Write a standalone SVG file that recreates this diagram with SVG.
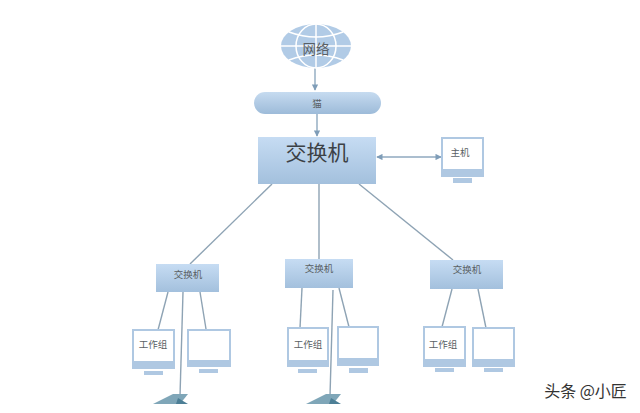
<svg xmlns="http://www.w3.org/2000/svg" width="640" height="413" viewBox="0 0 640 413">
<style>
text{font-family:"Noto Sans CJK SC","Liberation Serif",serif;text-anchor:middle;fill:#5a5f64}
.s{font-size:9.5px}
.c{stroke:#8ea3b4;stroke-width:1.4;fill:none}
.a{stroke:#8fa9bf;stroke-width:1.4;fill:none}
.m{fill:#afc8e2}
.w{fill:#fff}
.g{stroke:#fff;stroke-width:1.5;fill:none}
</style>
<defs>
<linearGradient id="b" x1="0" y1="0" x2="0" y2="1"><stop offset="0" stop-color="#c6dcf3"/><stop offset="1" stop-color="#a3c0dd"/></linearGradient>
<linearGradient id="p" x1="0" y1="0" x2="0" y2="1"><stop offset="0" stop-color="#c6dbf0"/><stop offset="1" stop-color="#9dbbd9"/></linearGradient>
<marker id="ah" viewBox="0 0 8 8" refX="7" refY="4" markerWidth="4.5" markerHeight="4.5" orient="auto-start-reverse"><path d="M0 0L8 4L0 8z" fill="#7f9db8"/></marker>
</defs>
<rect width="640" height="413" fill="#fff"/>
<g id="connectors">
<path class="a" d="M315 68V90" marker-end="url(#ah)"/>
<path class="a" d="M317 114V136" marker-end="url(#ah)"/>
<path class="a" d="M377 157H441" marker-start="url(#ah)" marker-end="url(#ah)"/>
<path class="c" d="M272 184L190 264"/>
<path class="c" d="M319 184V259"/>
<path class="c" d="M359 184L453 260"/>
<path class="c" d="M168 292L158 330"/>
<path class="c" d="M183 292L180 396"/>
<path class="c" d="M200 292L206 329"/>
<path class="c" d="M302 288L300 328"/>
<path class="c" d="M333 290L330 396"/>
<path class="c" d="M339 288L349 327"/>
<path class="c" d="M452 289L442 327"/>
<path class="c" d="M478 289L486 328"/>
</g>
<g id="globe">
<ellipse cx="316" cy="46" rx="35" ry="22" fill="#b1cbe6"/>
<ellipse class="g" cx="316" cy="46" rx="20" ry="22"/>
<path class="g" d="M316 24V68M281 46H351M289 32Q316 42 343 32M289 60Q316 50 343 60"/>
<text x="316" y="54" font-size="13.5">网络</text>
</g>
<g id="modem">
<rect x="254" y="92" width="127" height="22" rx="11" fill="url(#p)"/>
<text class="s" x="317" y="107">猫</text>
</g>
<g id="core-switch">
<rect x="258" y="137" width="118" height="47" fill="url(#b)"/>
<text x="317" y="160" font-size="21" style="fill:#3c4146">交换机</text>
</g>
<g id="host">
<rect class="m" x="441" y="137" width="43" height="40"/>
<rect class="w" x="443" y="139" width="39" height="30"/>
<rect class="m" x="453" y="178" width="19" height="5"/>
<text class="s" x="460" y="156">主机</text>
</g>
<g id="switch-1">
<rect x="156" y="264" width="63" height="28" fill="url(#b)"/>
<text class="s" x="188" y="278">交换机</text>
</g>
<g id="switch-2">
<rect x="285" y="259" width="68" height="29" fill="url(#b)"/>
<text class="s" x="319" y="272">交换机</text>
</g>
<g id="switch-3">
<rect x="430" y="260" width="73" height="29" fill="url(#b)"/>
<text class="s" x="467" y="273">交换机</text>
</g>
<g id="pc-1">
<rect class="m" x="132" y="329" width="43" height="40"/>
<rect class="w" x="134" y="331" width="39" height="30"/>
<rect class="m" x="144" y="371" width="19" height="4"/>
<text class="s" x="153" y="348">工作组</text>
</g>
<g id="pc-2">
<rect class="m" x="187" y="329" width="44" height="38"/>
<rect class="w" x="189" y="331" width="40" height="29"/>
<rect class="m" x="199" y="369" width="19" height="4"/>
</g>
<g id="pc-3">
<rect class="m" x="287" y="327" width="42" height="40"/>
<rect class="w" x="289" y="329" width="38" height="31"/>
<rect class="m" x="298" y="369" width="19" height="4"/>
<text class="s" x="308" y="348">工作组</text>
</g>
<g id="pc-4">
<rect class="m" x="337" y="326" width="42" height="40"/>
<rect class="w" x="339" y="328" width="38" height="30"/>
<rect class="m" x="349" y="368" width="19" height="5"/>
</g>
<g id="pc-5">
<rect class="m" x="423" y="326" width="43" height="41"/>
<rect class="w" x="425" y="328" width="39" height="31"/>
<rect class="m" x="435" y="368" width="19" height="4"/>
<text class="s" x="443" y="348">工作组</text>
</g>
<g id="pc-6">
<rect class="m" x="472" y="327" width="43" height="40"/>
<rect class="w" x="474" y="329" width="39" height="30"/>
<rect class="m" x="484" y="368" width="19" height="4"/>
</g>
<g id="laptop-1">
<path d="M153 404L173 394H188L180 404z" fill="#7fa6b8"/>
<path d="M178 398L188 404H176z" fill="#4d7f96"/>
</g>
<g id="laptop-2">
<path d="M306 404L326 394H341L333 404z" fill="#7fa6b8"/>
<path d="M331 398L341 404H329z" fill="#4d7f96"/>
</g>
<text x="585.500" y="397" font-size="16" style="fill:#333">头条 @小匠</text>
</svg>
